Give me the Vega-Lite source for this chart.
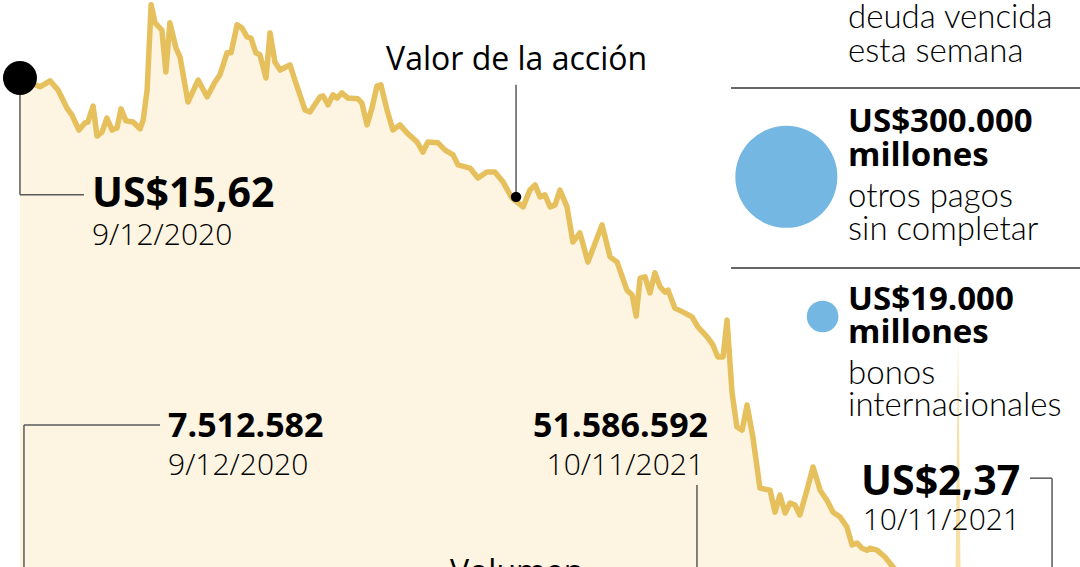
{
  "$schema": "https://vega.github.io/schema/vega-lite/v6.json",
  "width": 1080,
  "height": 567,
  "autosize": {"type": "fit", "contains": "padding"},
  "padding": 0,
  "background": "#ffffff",
  "config": {"view": {"stroke": null}},
  "datasets": {
    "precio": [
      {"dia":0.0,"precio":15.62},{"dia":6.5,"precio":15.40},{"dia":9.8,"precio":15.55},{"dia":12.4,"precio":15.32},{"dia":15.3,"precio":14.87},{"dia":16.9,"precio":14.70},{"dia":19.2,"precio":14.32},{"dia":21.2,"precio":14.50},{"dia":22.1,"precio":14.52},{"dia":23.8,"precio":14.92},{"dia":25.1,"precio":14.17},{"dia":26.7,"precio":14.27},{"dia":28.3,"precio":14.62},{"dia":30.0,"precio":14.32},{"dia":31.6,"precio":14.37},{"dia":32.9,"precio":14.85},{"dia":34.5,"precio":14.55},{"dia":36.8,"precio":14.52},{"dia":39.1,"precio":14.35},{"dia":40.1,"precio":14.57},{"dia":41.4,"precio":15.32},{"dia":42.7,"precio":17.45},{"dia":44.0,"precio":17.00},{"dia":46.2,"precio":16.82},{"dia":47.5,"precio":15.77},{"dia":48.8,"precio":17.00},{"dia":50.8,"precio":16.37},{"dia":52.1,"precio":16.15},{"dia":54.7,"precio":15.02},{"dia":58.0,"precio":15.57},{"dia":60.9,"precio":15.15},{"dia":63.5,"precio":15.52},{"dia":65.1,"precio":15.70},{"dia":67.4,"precio":16.25},{"dia":68.7,"precio":16.25},{"dia":70.7,"precio":16.95},{"dia":72.3,"precio":16.87},{"dia":73.9,"precio":16.65},{"dia":75.2,"precio":16.62},{"dia":76.8,"precio":16.25},{"dia":78.1,"precio":16.20},{"dia":80.1,"precio":15.62},{"dia":81.4,"precio":16.75},{"dia":83.0,"precio":16.02},{"dia":84.7,"precio":15.82},{"dia":87.9,"precio":15.95},{"dia":89.5,"precio":15.57},{"dia":92.8,"precio":14.82},{"dia":94.4,"precio":14.77},{"dia":97.7,"precio":15.15},{"dia":98.7,"precio":15.17},{"dia":100.3,"precio":14.95},{"dia":101.9,"precio":15.20},{"dia":103.2,"precio":15.12},{"dia":104.8,"precio":15.25},{"dia":106.8,"precio":15.12},{"dia":110.0,"precio":15.10},{"dia":111.3,"precio":15.00},{"dia":113.0,"precio":14.45},{"dia":114.6,"precio":14.87},{"dia":116.2,"precio":15.42},{"dia":117.5,"precio":15.45},{"dia":119.5,"precio":14.82},{"dia":121.4,"precio":14.32},{"dia":123.7,"precio":14.45},{"dia":126.0,"precio":14.25},{"dia":129.3,"precio":14.02},{"dia":131.2,"precio":13.77},{"dia":132.8,"precio":14.02},{"dia":136.1,"precio":14.00},{"dia":138.4,"precio":13.82},{"dia":141.0,"precio":13.70},{"dia":142.6,"precio":13.45},{"dia":146.5,"precio":13.37},{"dia":149.1,"precio":13.12},{"dia":152.0,"precio":13.27},{"dia":154.6,"precio":13.27},{"dia":157.3,"precio":13.02},{"dia":160.2,"precio":12.62},{"dia":163.8,"precio":12.40},{"dia":166.0,"precio":12.82},{"dia":167.7,"precio":12.95},{"dia":169.3,"precio":12.65},{"dia":170.9,"precio":12.70},{"dia":172.6,"precio":12.40},{"dia":174.2,"precio":12.45},{"dia":175.8,"precio":12.82},{"dia":178.1,"precio":12.40},{"dia":180.0,"precio":11.52},{"dia":182.3,"precio":11.75},{"dia":184.9,"precio":11.02},{"dia":189.5,"precio":11.95},{"dia":192.1,"precio":11.15},{"dia":194.4,"precio":11.02},{"dia":197.6,"precio":10.32},{"dia":199.3,"precio":10.20},{"dia":200.6,"precio":9.67},{"dia":201.9,"precio":10.62},{"dia":203.5,"precio":10.65},{"dia":205.1,"precio":10.25},{"dia":206.7,"precio":10.75},{"dia":208.4,"precio":10.40},{"dia":210.0,"precio":10.27},{"dia":211.0,"precio":10.32},{"dia":213.2,"precio":9.87},{"dia":215.9,"precio":9.77},{"dia":218.8,"precio":9.65},{"dia":220.7,"precio":9.40},{"dia":223.7,"precio":9.15},{"dia":225.6,"precio":8.95},{"dia":227.2,"precio":8.65},{"dia":228.9,"precio":8.65},{"dia":230.2,"precio":9.57},{"dia":231.8,"precio":7.77},{"dia":233.4,"precio":6.90},{"dia":235.1,"precio":6.82},{"dia":236.7,"precio":7.45},{"dia":238.6,"precio":6.65},{"dia":240.9,"precio":5.37},{"dia":244.2,"precio":5.32},{"dia":245.8,"precio":4.77},{"dia":247.4,"precio":5.20},{"dia":249.1,"precio":4.75},{"dia":250.7,"precio":5.00},{"dia":252.3,"precio":4.95},{"dia":253.9,"precio":4.70},{"dia":256.2,"precio":5.32},{"dia":258.2,"precio":5.90},{"dia":260.5,"precio":5.32},{"dia":262.7,"precio":5.07},{"dia":264.7,"precio":4.77},{"dia":267.0,"precio":4.65},{"dia":269.2,"precio":4.40},{"dia":270.9,"precio":3.95},{"dia":272.5,"precio":4.00},{"dia":274.1,"precio":3.87},{"dia":275.8,"precio":3.82},{"dia":276.7,"precio":3.87},{"dia":279.0,"precio":3.82},{"dia":281.6,"precio":3.65},{"dia":284.2,"precio":3.40},{"dia":286.5,"precio":3.20},{"dia":336.0,"precio":2.37}
    ]
  },
  "encoding": {
    "x": {"field": "dia", "type": "quantitative", "scale": {"domain": [-6.5, 345.1], "nice": false, "zero": false}, "axis": null},
    "y": {"field": "precio", "type": "quantitative", "scale": {"domain": [3.4, 17.57], "nice": false, "zero": false}, "axis": null}
  },
  "resolve": {"scale": {"y": "independent"}},
  "layer": [
    {
      "data": {"name": "precio"},
      "mark": {"type": "area", "color": "#fdf5e2", "clip": true},
      "encoding": {"y2": {"datum": 0}}
    },
    {
      "data": {"values": [{"dia": 304.6, "vol": 0}, {"dia": 305.4, "vol": 51586592}, {"dia": 306.2, "vol": 0}]},
      "mark": {"type": "area", "color": "#f8e0a4", "clip": true},
      "encoding": {"y": {"field": "vol", "type": "quantitative", "scale": {"domain": [0, 128850000], "nice": false, "zero": false}, "axis": null}}
    },
    {
      "data": {"name": "precio"},
      "mark": {"type": "line", "color": "#e6c05c", "strokeWidth": 5.5, "strokeJoin": "round", "strokeCap": "round", "clip": true},
      "encoding": {}
    },
    {
      "data": {"values": [
        {"dia": 0.0, "dia2": 0.0, "precio": 15.62, "precio2": 12.70},
        {"dia": 0.0, "dia2": 20.85, "precio": 12.70, "precio2": 12.70},
        {"dia": 161.5, "dia2": 161.5, "precio": 15.45, "precio2": 12.65},
        {"dia": 1.3, "dia2": 45.6, "precio": 6.95, "precio2": 6.95},
        {"dia": 1.3, "dia2": 1.3, "precio": 6.95, "precio2": 3.4},
        {"dia": 220.4, "dia2": 220.4, "precio": 5.45, "precio2": 3.4},
        {"dia": 328.8, "dia2": 336.0, "precio": 5.62, "precio2": 5.62},
        {"dia": 336.0, "dia2": 336.0, "precio": 5.62, "precio2": 3.4}
      ]},
      "mark": {"type": "rule", "color": "#5a5a5a", "strokeWidth": 1.5, "clip": true},
      "encoding": {"x2": {"field": "dia2"}, "y2": {"field": "precio2"}}
    },
    {
      "data": {"values": [
        {"dia": 231.5, "dia2": 345.1, "precio": 15.37},
        {"dia": 231.5, "dia2": 345.1, "precio": 10.87}
      ]},
      "mark": {"type": "rule", "color": "#333333", "strokeWidth": 1.5, "clip": true},
      "encoding": {"x2": {"field": "dia2"}}
    },
    {
      "data": {"values": [{"dia": 0.0, "precio": 15.62}]},
      "mark": {"type": "point", "shape": "circle", "filled": true, "color": "#000000", "size": 1156, "opacity": 1},
      "encoding": {}
    },
    {
      "data": {"values": [{"dia": 161.5, "precio": 12.65}]},
      "mark": {"type": "point", "shape": "circle", "filled": true, "color": "#000000", "size": 110, "opacity": 1},
      "encoding": {}
    },
    {
      "data": {"values": [{"dia": 249.5, "precio": 13.15, "monto": 300000}, {"dia": 261.3, "precio": 9.66, "monto": 19000}]},
      "mark": {"type": "point", "shape": "circle", "filled": true, "color": "#74b7e3", "opacity": 1},
      "encoding": {"size": {"field": "monto", "type": "quantitative", "scale": {"type": "sqrt", "domain": [19000, 300000], "range": [1000, 10404]}, "legend": null}}
    },
    {
      "data": {"values": [
        {"texto": "US$15,62", "dia": 23.45, "precio": 12.40}
      ]},
      "mark": {"type": "text", "align": "left", "baseline": "alphabetic", "font": "Open Sans", "fontWeight": 700, "fontSize": 41, "color": "#000000", "clip": true},
      "encoding": {"text": {"field": "texto"}}
    },
    {
      "data": {"values": [
        {"texto": "US$2,37", "dia": 325.6, "precio": 5.20}
      ]},
      "mark": {"type": "text", "align": "right", "baseline": "alphabetic", "font": "Open Sans", "fontWeight": 700, "fontSize": 41, "color": "#000000", "clip": true},
      "encoding": {"text": {"field": "texto"}}
    },
    {
      "data": {"values": [
        {"texto": "9/12/2020", "dia": 23.45, "precio": 11.45}
      ]},
      "mark": {"type": "text", "align": "left", "baseline": "alphabetic", "font": "Open Sans", "fontWeight": 300, "fontSize": 30, "color": "#000000", "clip": true},
      "encoding": {"text": {"field": "texto"}}
    },
    {
      "data": {"values": [
        {"texto": "10/11/2021", "dia": 325.6, "precio": 4.32}
      ]},
      "mark": {"type": "text", "align": "right", "baseline": "alphabetic", "font": "Open Sans", "fontWeight": 300, "fontSize": 30, "color": "#000000", "clip": true},
      "encoding": {"text": {"field": "texto"}}
    },
    {
      "data": {"values": [
        {"texto": "Valor de la acción", "dia": 119.2, "precio": 15.82},
        {"texto": "Volumen", "dia": 140.0, "precio": 3.0}
      ]},
      "mark": {"type": "text", "align": "left", "baseline": "alphabetic", "font": "Open Sans", "fontWeight": 400, "fontSize": 32, "color": "#000000", "clip": true},
      "encoding": {"text": {"field": "texto"}}
    },
    {
      "data": {"values": [
        {"texto": "US$300.000", "dia": 269.6, "precio": 14.27},
        {"texto": "millones", "dia": 269.6, "precio": 13.42},
        {"texto": "US$19.000", "dia": 269.6, "precio": 9.82},
        {"texto": "millones", "dia": 269.6, "precio": 9.00}
      ]},
      "mark": {"type": "text", "align": "left", "baseline": "alphabetic", "font": "Open Sans", "fontWeight": 700, "fontSize": 33, "color": "#000000", "clip": true},
      "encoding": {"text": {"field": "texto"}}
    },
    {
      "data": {"values": [
        {"texto": "deuda vencida", "dia": 269.6, "precio": 16.87},
        {"texto": "esta semana", "dia": 269.6, "precio": 16.02},
        {"texto": "otros pagos", "dia": 269.6, "precio": 12.40},
        {"texto": "sin completar", "dia": 269.6, "precio": 11.57},
        {"texto": "bonos", "dia": 269.6, "precio": 7.97},
        {"texto": "internacionales", "dia": 269.6, "precio": 7.17}
      ]},
      "mark": {"type": "text", "align": "left", "baseline": "alphabetic", "font": "Lato", "fontWeight": 300, "fontSize": 33, "color": "#000000", "clip": true},
      "encoding": {"text": {"field": "texto"}}
    },
    {
      "data": {"values": [
        {"texto": "7.512.582", "dia": 48.2, "precio": 6.65}
      ]},
      "mark": {"type": "text", "align": "left", "baseline": "alphabetic", "font": "Open Sans", "fontWeight": 700, "fontSize": 34, "color": "#000000", "clip": true},
      "encoding": {"text": {"field": "texto"}}
    },
    {
      "data": {"values": [
        {"texto": "51.586.592", "dia": 224.0, "precio": 6.65}
      ]},
      "mark": {"type": "text", "align": "right", "baseline": "alphabetic", "font": "Open Sans", "fontWeight": 700, "fontSize": 34, "color": "#000000", "clip": true},
      "encoding": {"text": {"field": "texto"}}
    },
    {
      "data": {"values": [
        {"texto": "9/12/2020", "dia": 48.2, "precio": 5.70}
      ]},
      "mark": {"type": "text", "align": "left", "baseline": "alphabetic", "font": "Open Sans", "fontWeight": 300, "fontSize": 30, "color": "#000000", "clip": true},
      "encoding": {"text": {"field": "texto"}}
    },
    {
      "data": {"values": [
        {"texto": "10/11/2021", "dia": 222.7, "precio": 5.70}
      ]},
      "mark": {"type": "text", "align": "right", "baseline": "alphabetic", "font": "Open Sans", "fontWeight": 300, "fontSize": 30, "color": "#000000", "clip": true},
      "encoding": {"text": {"field": "texto"}}
    }
  ]
}
